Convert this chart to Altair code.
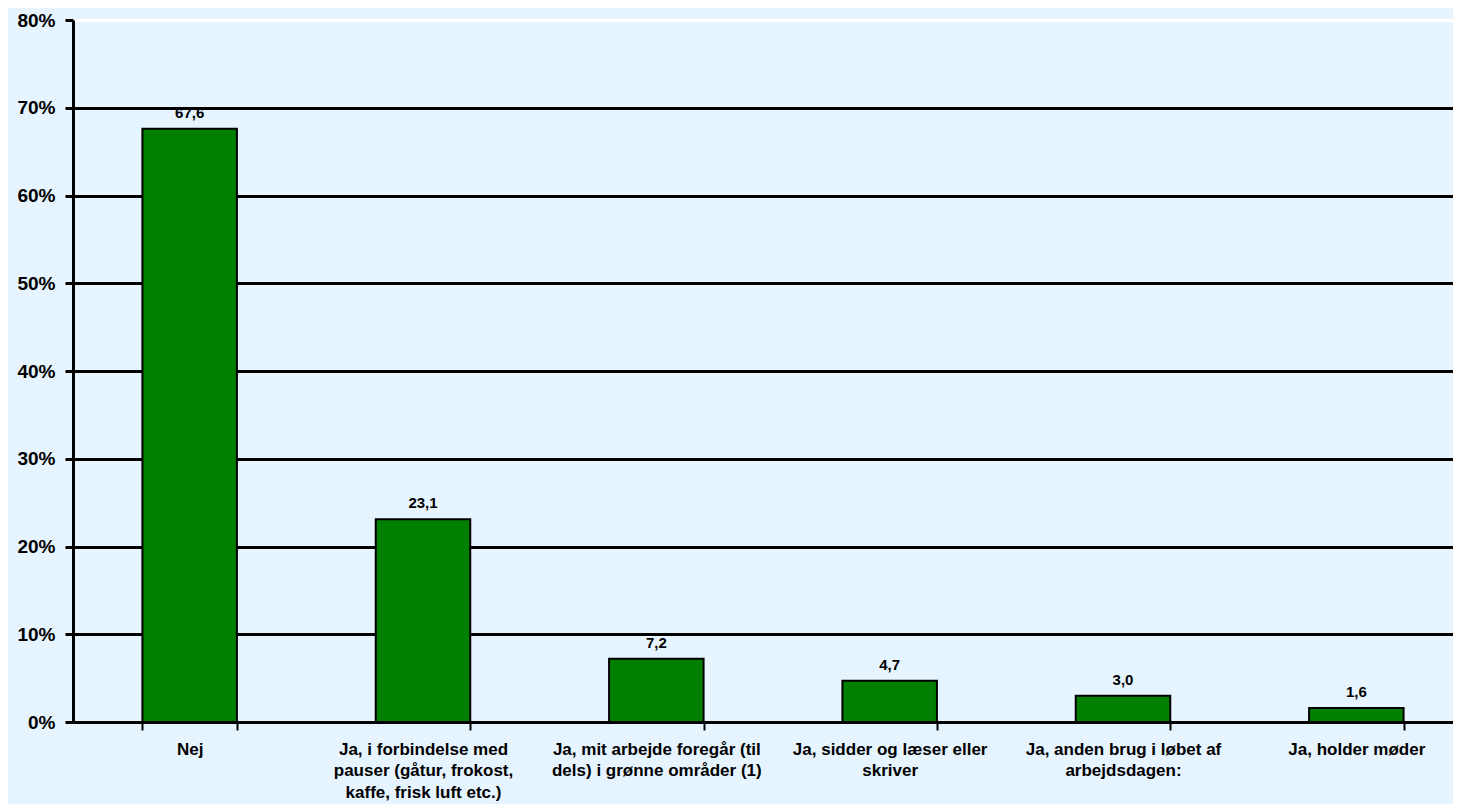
import altair as alt
import pandas as pd

categories = [
    "Nej",
    "Ja, i forbindelse med\npauser (gåtur, frokost,\nkaffe, frisk luft etc.)",
    "Ja, mit arbejde foregår (til\ndels) i grønne områder (1)",
    "Ja, sidder og læser eller\nskriver",
    "Ja, anden brug i løbet af\narbejdsdagen:",
    "Ja, holder møder",
]
values = [67.6, 23.1, 7.2, 4.7, 3.0, 1.6]
y_ticks = [0, 10, 20, 30, 40, 50, 60, 70, 80]

df = pd.DataFrame({"cat": categories, "val": values})

BG = "#E6F4FF"
GREEN = "#007F00"
FONT = "Liberation Sans"

x_enc = alt.X(
    "cat:N",
    sort=None,
    title=None,
    scale=alt.Scale(range=[0, 1400], paddingInner=0.595, paddingOuter=0.2975),
    axis=alt.Axis(
        labelAngle=0,
        labelExpr="split(datum.label, '\\n')",
        labelFont=FONT,
        labelFontWeight="bold",
        labelFontSize=17,
        labelLineHeight=21.5,
        labelColor="black",
        labelPadding=11,
        labelLimit=300,
        tickBand="extent",
        ticks=True,
        tickSize=8,
        tickWidth=2,
        tickColor="black",
        domainColor="black",
        domainWidth=3,
        grid=False,
    ),
)

y_enc = alt.Y(
    "val:Q",
    title=None,
    scale=alt.Scale(domain=[0, 80], nice=False),
    axis=alt.Axis(
        values=y_ticks,
        labelExpr="datum.value + '%'",
        labelFont=FONT,
        labelFontWeight="bold",
        labelFontSize=19,
        labelColor="black",
        labelPadding=10,
        tickSize=8,
        tickWidth=3,
        tickColor="black",
        domainColor="black",
        domainWidth=3,
        grid=True,
        gridWidth=3,
        gridColor={"condition": {"test": "datum.value === 80", "value": "white"}, "value": "black"},
    ),
)

bars = alt.Chart(df).mark_bar(color=GREEN, stroke="black", strokeWidth=2).encode(
    x=x_enc, y=y_enc
)

labels = (
    alt.Chart(df)
    .transform_calculate(lbl="replace(format(datum.val, '.1f'), '.', ',')")
    .mark_text(
        baseline="bottom",
        dy=-8,
        font=FONT,
        fontWeight="bold",
        fontSize=15,
        color="black",
    )
    .encode(x=alt.X("cat:N", sort=None), y="val:Q", text="lbl:N")
)

chart = (
    alt.layer(bars, labels)
    .properties(
        width=1380,
        height=702,
        background=BG,
        autosize=alt.AutoSizeParams(type="none"),
        padding={"left": 65, "top": 12, "right": 0, "bottom": 82},
    )
    .configure_view(stroke=None, fill=BG)
)

chart.save("out.html", embed_options={"renderer": "svg", "actions": False})
